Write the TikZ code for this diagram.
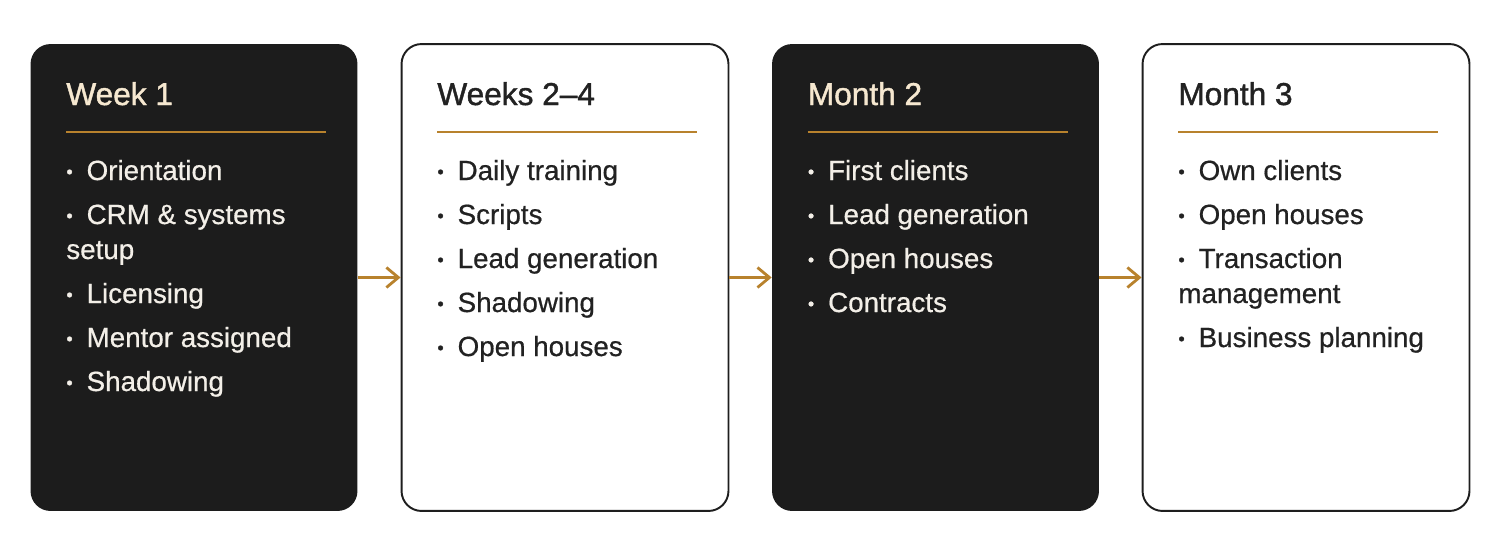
\documentclass[tikz,border=0pt]{standalone}
\usepackage{fontspec}
\setmainfont{Liberation Sans}[RawFeature={embolden=0.6}]
\newfontfamily\headfont{Liberation Sans}[RawFeature={embolden=1.3}]
\usetikzlibrary{arrows.meta}
\definecolor{cardblack}{HTML}{1C1C1C}
\definecolor{cardline}{HTML}{1E1E1E}
\definecolor{gold}{HTML}{B8822D}
\definecolor{headcream}{HTML}{F6E8D0}
\definecolor{itemcream}{HTML}{F3EFE8}
\definecolor{inkdark}{HTML}{222222}
\newcommand{\bul}{\raisebox{0.07em}{\scalebox{0.66}{•}}\hspace{0.5em}}
\begin{document}
\begin{tikzpicture}[x=0.02cm,y=-0.02cm]
  \tikzstyle{card}=[rectangle,rounded corners=0.4cm,minimum width=6.54cm,minimum height=9.34cm,inner sep=0pt]
  \tikzstyle{darkcard}=[card,fill=cardblack]
  \tikzstyle{lightcard}=[card,draw=cardline,line width=1.1pt,fill=white]
  \tikzstyle{head}=[anchor=base west,inner sep=0pt,text=inkdark,font=\headfont\fontsize{18}{22}\selectfont]
  \tikzstyle{item}=[anchor=base west,inner sep=0pt,text=inkdark,font=\fontsize{15.8}{19}\selectfont]
  \tikzstyle{ondark}=[text=itemcream]
  \tikzstyle{rule}=[draw=gold,line width=1.1pt]
  \tikzstyle{flow}=[draw=gold,line width=1.6pt,-{Straight Barb[length=0.24cm,width=0.4cm]}]
  \useasboundingbox (0,0) rectangle (1500,551);

  % the four cards
  \node[darkcard] (w1) at (194,277.5) {};
  \node[lightcard] (w2) at (565,277.5) {};
  \node[darkcard] (m2) at (935.5,277.5) {};
  \node[lightcard] (m3) at (1306,277.5) {};

  % week 1
  \node[head,text=headcream] (h1) at (66,105) {Week 1};
  \coordinate (r1a) at (66,132);
  \coordinate (r1b) at (326,132);
  \draw[rule] (r1a) -- (r1b);
  \node[item,ondark] (a1) at (66,180) {\bul Orientation};
  \node[item,ondark] (a2) at (66,224) {\bul CRM \& systems};
  \node[item,ondark] (a2b) at (66,259) {setup};
  \node[item,ondark] (a3) at (66,303) {\bul Licensing};
  \node[item,ondark] (a4) at (66,347) {\bul Mentor assigned};
  \node[item,ondark] (a5) at (66,391) {\bul Shadowing};

  % weeks 2-4
  \node[head] (h2) at (437,105) {Weeks 2–4};
  \coordinate (r2a) at (437,132);
  \coordinate (r2b) at (697,132);
  \draw[rule] (r2a) -- (r2b);
  \node[item] (b1) at (437,180) {\bul Daily training};
  \node[item] (b2) at (437,224) {\bul Scripts};
  \node[item] (b3) at (437,268) {\bul Lead generation};
  \node[item] (b4) at (437,312) {\bul Shadowing};
  \node[item] (b5) at (437,356) {\bul Open houses};

  % month 2
  \node[head,text=headcream] (h3) at (807.5,105) {Month 2};
  \coordinate (r3a) at (807.5,132);
  \coordinate (r3b) at (1067.5,132);
  \draw[rule] (r3a) -- (r3b);
  \node[item,ondark] (c1) at (807.5,180) {\bul First clients};
  \node[item,ondark] (c2) at (807.5,224) {\bul Lead generation};
  \node[item,ondark] (c3) at (807.5,268) {\bul Open houses};
  \node[item,ondark] (c4) at (807.5,312) {\bul Contracts};

  % month 3
  \node[head] (h4) at (1178,105) {Month 3};
  \coordinate (r4a) at (1178,132);
  \coordinate (r4b) at (1438,132);
  \draw[rule] (r4a) -- (r4b);
  \node[item] (d1) at (1178,180) {\bul Own clients};
  \node[item] (d2) at (1178,224) {\bul Open houses};
  \node[item] (d3) at (1178,268) {\bul Transaction};
  \node[item] (d3b) at (1178,303) {management};
  \node[item] (d4) at (1178,347) {\bul Business planning};

  % arrows between cards
  \draw[flow] (w1) -- (w2);
  \draw[flow] (w2) -- (m2);
  \draw[flow] (m2) -- (m3);
\end{tikzpicture}
\end{document}
